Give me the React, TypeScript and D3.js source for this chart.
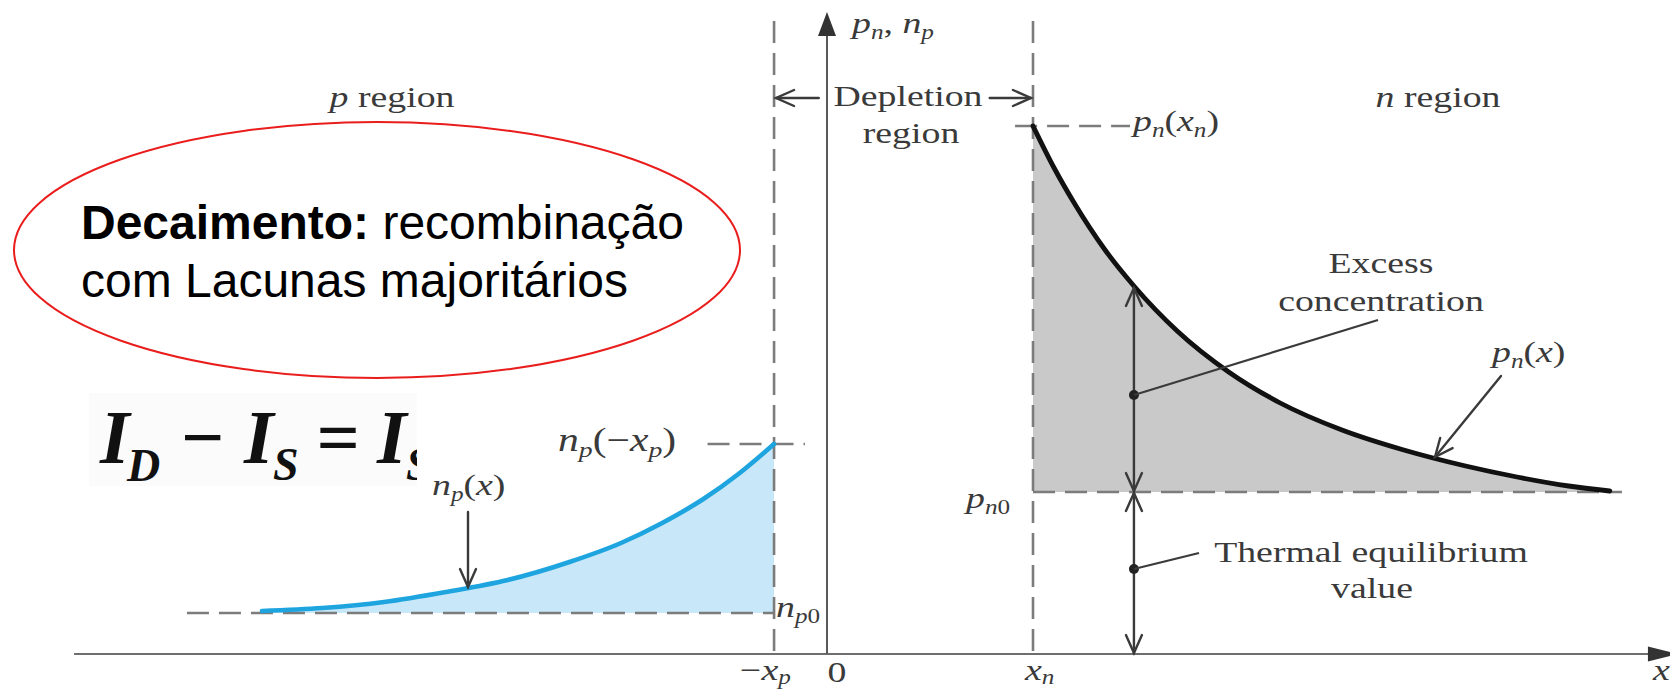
import React from "react";
import * as d3 from "d3";

// Positions along the diode (arbitrary length units, metallurgical junction at 0)
const X_P = -0.257; // edge of the depletion region on the p side (−x_p)
const X_N = 1.0; // edge of the depletion region on the n side (x_n)

// Equilibrium minority-carrier levels (arbitrary concentration units)
const NP0 = 4.1; // electrons in the p region
const PN0 = 16.2; // holes in the n region

// Minority electrons in the p region, n_p(x)
const npX = [-2.743, -2.45, -2.15, -1.85, -1.55, -1.25, -1.0, -0.8, -0.6, -0.43, -0.257];
const npVal = [4.3, 4.6, 5.2, 6.2, 7.4, 9.2, 11.1, 13.1, 15.5, 18.0, 21.0];

// Minority holes in the n region, p_n(x)
const pnX = [1.0, 1.1, 1.2, 1.35, 1.49, 1.7, 1.95, 2.2, 2.5, 2.8, 3.1, 3.35, 3.6, 3.8];
const pnVal = [52.8, 48.7, 45.1, 40.4, 36.8, 32.3, 28.2, 25.1, 22.4, 20.4, 18.8, 17.7, 16.8, 16.3];

// Axis ticks along x
const tickPos = [X_P, 0, X_N];
const tickName = ["-xp", "0", "xn"];

const W = 1670;
const H = 689;
const INK = "#3a3a3a";
const DASH = "#7c7c7c";
const SERIF = "'Liberation Serif', 'Times New Roman', serif";
const SANS = "'Liberation Sans', Arial, sans-serif";
const SX = 1.26; // horizontal stretch of the diagram lettering

const x = d3.scaleLinear().domain([0, 1]).range([827, 1033]);
const y = d3.scaleLinear().domain([0, 64]).range([654, 14]);

const npPts: [number, number][] = npX.map((v, i) => [v, npVal[i]]);
const pnPts: [number, number][] = pnX.map((v, i) => [v, pnVal[i]]);

const lineGen = d3
  .line<[number, number]>()
  .x((d) => x(d[0]))
  .y((d) => y(d[1]))
  .curve(d3.curveMonotoneX);

const npArea = d3
  .area<[number, number]>()
  .x((d) => x(d[0]))
  .y0(y(NP0))
  .y1((d) => y(d[1]))
  .curve(d3.curveMonotoneX);

const pnArea = d3
  .area<[number, number]>()
  .x((d) => x(d[0]))
  .y0(y(PN0))
  .y1((d) => y(d[1]))
  .curve(d3.curveMonotoneX);

// open "V" arrow head whose tip is at (tx, ty), pointing along angle (radians)
function chevron(tx: number, ty: number, ang: number, len = 18, half = 8) {
  const dx = Math.cos(ang);
  const dy = Math.sin(ang);
  const bx = tx - len * dx;
  const by = ty - len * dy;
  const px = -dy * half;
  const py = dx * half;
  return `M${bx + px},${by + py}L${tx},${ty}L${bx - px},${by - py}`;
}

function Arrow({ x1, y1, x2, y2, head2 = true, head1 = false }: any) {
  const a = Math.atan2(y2 - y1, x2 - x1);
  return (
    <g stroke={INK} strokeWidth={2.4} fill="none" strokeLinecap="round">
      <line x1={x1} y1={y1} x2={x2} y2={y2} />
      {head2 && <path d={chevron(x2, y2, a)} />}
      {head1 && <path d={chevron(x1, y1, a + Math.PI)} />}
    </g>
  );
}

function Lbl({ x: tx, y: ty, anchor = "start", size = 30, children }: any) {
  return (
    <text
      transform={`translate(${tx},${ty}) scale(${SX},1)`}
      textAnchor={anchor}
      fontFamily={SERIF}
      fontSize={size}
      fill={INK}
    >
      {children}
    </text>
  );
}

const It = ({ children }: any) => <tspan fontStyle="italic">{children}</tspan>;
const Sub = ({ children, italic = true, size = 20, shift = 6 }: any) => (
  <tspan fontSize={size} dy={shift} fontStyle={italic ? "italic" : "normal"}>
    {children}
  </tspan>
);
const Up = ({ children, italic = false, shift = 6 }: any) => (
  <tspan dy={-shift} fontStyle={italic ? "italic" : "normal"}>
    {children}
  </tspan>
);

function TickLabel({ name, at }: { name: string; at: number }) {
  const ty = 680;
  if (name === "-xp")
    return (
      <Lbl x={x(at) - 34} y={ty}>
        −<It>x</It>
        <Sub shift={4}>p</Sub>
      </Lbl>
    );
  if (name === "xn")
    return (
      <Lbl x={x(at) - 8} y={ty}>
        <It>x</It>
        <Sub shift={4}>n</Sub>
      </Lbl>
    );
  return (
    <Lbl x={x(at) + 10} y={ty + 2} anchor="middle">
      {name}
    </Lbl>
  );
}

export default function App() {
  const yAxisTop = y(64.2);
  const xAxisTip = x(4.13);
  const xAxisBase = x(3.985);
  const arrowX = x(pnX[4]);
  const excessTop = y(pnVal[4]) + 2;
  const eqLevel = y(PN0);
  const base = y(0);
  const npTop = y(npVal[npVal.length - 1]);

  return (
    <svg
      width={W}
      height={H}
      viewBox={`0 0 ${W} ${H}`}
      style={{ position: "absolute", left: 0, top: 0, background: "#fff" }}
    >
      <defs>
        <clipPath id="eqClip">
          <rect x={89} y={393} width={328} height={93} />
        </clipPath>
      </defs>

      {/* shaded excess-carrier regions */}
      <path d={npArea(npPts) || ""} fill="#c8e7f8" />
      <path d={pnArea(pnPts) || ""} fill="#c9c9c9" />

      {/* dashed guides */}
      <g stroke={DASH} strokeWidth={2.6} strokeDasharray="22 10" fill="none">
        <line x1={x(X_P)} y1={21} x2={x(X_P)} y2={base} />
        <line x1={x(X_N)} y1={21} x2={x(X_N)} y2={base} />
        <line x1={x(-3.107)} y1={y(NP0)} x2={x(X_P)} y2={y(NP0)} />
        <line x1={x(-0.58)} y1={npTop} x2={x(-0.107)} y2={npTop} />
        <line x1={x(X_N)} y1={eqLevel} x2={x(3.859)} y2={eqLevel} />
        <line x1={x(0.913)} y1={y(pnVal[0])} x2={x(1.471)} y2={y(pnVal[0])} />
      </g>

      {/* axes */}
      <line x1={x(-3.655)} y1={base} x2={xAxisBase + 2} y2={base} stroke="#6e6e6e" strokeWidth={2.2} />
      <path d={`M${xAxisTip},${base}L${xAxisBase},${base - 7.5}L${xAxisBase},${base + 7.5}Z`} fill="#333" />
      <line x1={x(0)} y1={base} x2={x(0)} y2={yAxisTop + 18} stroke="#5a5a5a" strokeWidth={2} />
      <path d={`M${x(0)},${yAxisTop}L${x(0) - 9},${yAxisTop + 24}L${x(0) + 9},${yAxisTop + 24}Z`} fill="#333" />

      {/* carrier profiles */}
      <path d={lineGen(npPts) || ""} fill="none" stroke="#1ea5e0" strokeWidth={4.6} strokeLinecap="round" />
      <path d={lineGen(pnPts) || ""} fill="none" stroke="#111" strokeWidth={4.8} strokeLinecap="round" />

      {/* depletion width arrows */}
      <Arrow x1={x(-0.04)} y1={98} x2={x(X_P) + 2} y2={98} />
      <Arrow x1={x(0.79)} y1={98} x2={x(X_N) - 2} y2={98} />

      {/* excess / equilibrium bars */}
      <Arrow x1={arrowX} y1={eqLevel - 1} x2={arrowX} y2={excessTop} head1 />
      <Arrow x1={arrowX} y1={eqLevel + 1} x2={arrowX} y2={base - 1} head1 />
      <circle cx={arrowX} cy={395} r={5} fill="#222" />
      <circle cx={arrowX} cy={569} r={5} fill="#222" />
      <line x1={arrowX} y1={395} x2={1378} y2={320} stroke={INK} strokeWidth={2.2} />
      <line x1={arrowX} y1={569} x2={1199} y2={553} stroke={INK} strokeWidth={2.2} />

      {/* pointers to the curves */}
      <Arrow x1={468} y1={512} x2={468} y2={587} />
      <Arrow x1={1501} y1={376} x2={1435} y2={457} />

      {/* region names */}
      <Lbl x={392} y={107} anchor="middle">
        <It>p</It> region
      </Lbl>
      <Lbl x={1438} y={107} anchor="middle">
        <It>n</It> region
      </Lbl>
      <Lbl x={908} y={106} anchor="middle">
        Depletion
      </Lbl>
      <Lbl x={911} y={143} anchor="middle">
        region
      </Lbl>
      <Lbl x={1381} y={273} anchor="middle">
        Excess
      </Lbl>
      <Lbl x={1381} y={311} anchor="middle">
        concentration
      </Lbl>
      <Lbl x={1371} y={562} anchor="middle">
        Thermal equilibrium
      </Lbl>
      <Lbl x={1372} y={598} anchor="middle">
        value
      </Lbl>

      {/* symbols */}
      <Lbl x={852} y={33}>
        <It>p</It>
        <Sub>n</Sub>
        <Up>, </Up>
        <It>n</It>
        <Sub>p</Sub>
      </Lbl>
      <Lbl x={1133} y={131}>
        <It>p</It>
        <Sub>n</Sub>
        <Up>(</Up>
        <It>x</It>
        <Sub>n</Sub>
        <Up>)</Up>
      </Lbl>
      <Lbl x={1492} y={362}>
        <It>p</It>
        <Sub>n</Sub>
        <Up>(</Up>
        <It>x</It>)
      </Lbl>
      <Lbl x={432} y={495}>
        <It>n</It>
        <Sub>p</Sub>
        <Up>(</Up>
        <It>x</It>)
      </Lbl>
      <Lbl x={558} y={451} size={33}>
        <It>n</It>
        <Sub size={22}>p</Sub>
        <Up>(−</Up>
        <It>x</It>
        <Sub size={22}>p</Sub>
        <Up>)</Up>
      </Lbl>
      <Lbl x={776} y={617}>
        <It>n</It>
        <Sub>p</Sub>
        <tspan fontSize={20}>0</tspan>
      </Lbl>
      <Lbl x={966} y={508}>
        <It>p</It>
        <Sub>n</Sub>
        <tspan fontSize={20}>0</tspan>
      </Lbl>
      {tickPos.map((p, i) => (
        <TickLabel key={tickName[i]} name={tickName[i]} at={p} />
      ))}
      <Lbl x={1653} y={680}>
        <It>x</It>
      </Lbl>

      {/* current relation */}
      <g clipPath="url(#eqClip)">
        <rect x={89} y={393} width={328} height={93} fill="#fbfbfb" />
        <text fontFamily={SERIF} fontWeight="bold" fontStyle="italic" fill="#111">
          <tspan x={100} y={463} fontSize={76}>I</tspan>
          <tspan x={127} y={481} fontSize={46}>D</tspan>
          <tspan x={179} y={463} fontSize={76}>−</tspan>
          <tspan x={244} y={463} fontSize={76}>I</tspan>
          <tspan x={273} y={480} fontSize={46}>S</tspan>
          <tspan x={316} y={463} fontSize={76}>=</tspan>
          <tspan x={377} y={463} fontSize={76}>I</tspan>
          <tspan x={406} y={480} fontSize={46}>S</tspan>
        </text>
      </g>

      {/* callout */}
      <ellipse cx={377} cy={250} rx={363} ry={128} fill="none" stroke="#ea1d1d" strokeWidth={2} />
      <text fontFamily={SANS} fontSize={48} fill="#000">
        <tspan x={81} y={239} fontWeight="bold">
          Decaimento:
        </tspan>
        <tspan> recombinação</tspan>
        <tspan x={81} y={297}>
          com Lacunas majoritários
        </tspan>
      </text>
    </svg>
  );
}
